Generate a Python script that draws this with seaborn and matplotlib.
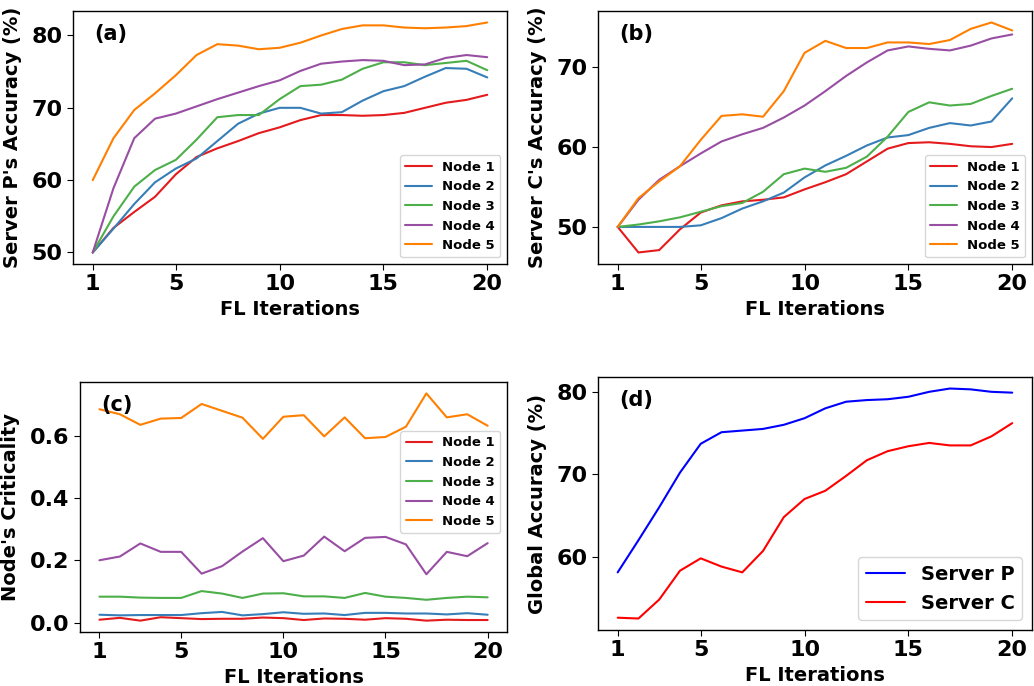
"""
Four panel figure: per-node accuracy on servers P and C, node criticality and global accuracy.
"""
import numpy as np
import pandas as pd
import matplotlib
matplotlib.use('Agg')
import matplotlib.pyplot as plt
import seaborn as sns

# Data
iterations = list(range(1, 21))
node_names = ['Node 1', 'Node 2', 'Node 3', 'Node 4', 'Node 5']

server_p_node1 = [50.0, 53.4, 55.6, 57.7, 60.8, 63.2, 64.4, 65.4, 66.5, 67.3,
                  68.3, 69.0, 69.0, 68.9, 69.0, 69.3, 70.0, 70.7, 71.1, 71.8]
server_p_node2 = [50.0, 53.3, 56.7, 59.7, 61.6, 63.0, 65.4, 67.8, 69.2, 70.0,
                  70.0, 69.2, 69.4, 71.0, 72.3, 73.0, 74.3, 75.5, 75.4, 74.2]
server_p_node3 = [50.0, 55.0, 59.1, 61.4, 62.8, 65.6, 68.7, 69.0, 69.0, 71.2,
                  73.0, 73.2, 73.9, 75.4, 76.3, 76.3, 75.9, 76.2, 76.5, 75.2]
server_p_node4 = [50.0, 58.9, 65.8, 68.5, 69.2, 70.2, 71.2, 72.1, 73.0, 73.8,
                  75.1, 76.1, 76.4, 76.6, 76.5, 75.9, 76.0, 76.9, 77.3, 77.0]
server_p_node5 = [60.0, 65.8, 69.7, 72.0, 74.5, 77.3, 78.8, 78.6, 78.1, 78.3,
                  79.0, 80.0, 80.9, 81.4, 81.4, 81.1, 81.0, 81.1, 81.3, 81.8]

server_c_node1 = [50.0, 46.8, 47.1, 49.7, 51.8, 52.7, 53.2, 53.4, 53.7, 54.7,
                  55.6, 56.6, 58.2, 59.8, 60.5, 60.6, 60.4, 60.1, 60.0, 60.4]
server_c_node2 = [50.0, 50.0, 50.0, 50.0, 50.2, 51.1, 52.3, 53.2, 54.3, 56.2,
                  57.7, 58.9, 60.2, 61.2, 61.5, 62.4, 63.0, 62.7, 63.2, 66.1]
server_c_node3 = [50.0, 50.3, 50.7, 51.2, 51.9, 52.6, 53.0, 54.4, 56.6, 57.3,
                  56.9, 57.4, 58.8, 61.3, 64.4, 65.6, 65.2, 65.4, 66.4, 67.3]
server_c_node4 = [50.0, 53.4, 55.9, 57.6, 59.2, 60.7, 61.6, 62.4, 63.7, 65.2,
                  67.0, 68.9, 70.6, 72.1, 72.6, 72.3, 72.1, 72.7, 73.6, 74.1]
server_c_node5 = [50.0, 53.6, 55.7, 57.6, 60.9, 63.9, 64.1, 63.8, 67.0, 71.8,
                  73.3, 72.4, 72.4, 73.1, 73.1, 72.9, 73.4, 74.8, 75.6, 74.6]

crit_node1 = [0.009, 0.015, 0.006, 0.017, 0.014, 0.011, 0.012, 0.012, 0.016, 0.014,
              0.008, 0.013, 0.012, 0.009, 0.014, 0.012, 0.006, 0.009, 0.008, 0.008]
crit_node2 = [0.025, 0.023, 0.024, 0.024, 0.024, 0.030, 0.034, 0.023, 0.027, 0.033,
              0.028, 0.029, 0.024, 0.031, 0.031, 0.029, 0.029, 0.026, 0.030, 0.025]
crit_node3 = [0.083, 0.083, 0.080, 0.079, 0.079, 0.101, 0.093, 0.079, 0.093, 0.094,
              0.084, 0.084, 0.079, 0.095, 0.083, 0.079, 0.073, 0.079, 0.083, 0.081]
crit_node4 = [0.200, 0.212, 0.254, 0.227, 0.227, 0.157, 0.181, 0.228, 0.271, 0.197,
              0.215, 0.276, 0.229, 0.272, 0.275, 0.251, 0.155, 0.227, 0.213, 0.255]
crit_node5 = [0.685, 0.669, 0.635, 0.655, 0.657, 0.702, 0.680, 0.658, 0.590, 0.661,
              0.666, 0.598, 0.659, 0.592, 0.596, 0.629, 0.736, 0.659, 0.669, 0.632]

global_server_p = [58.1, 62.0, 66.0, 70.2, 73.7, 75.1, 75.3, 75.5, 76.0, 76.8,
                   78.0, 78.8, 79.0, 79.1, 79.4, 80.0, 80.4, 80.3, 80.0, 79.9]
global_server_c = [52.6, 52.5, 54.8, 58.3, 59.8, 58.8, 58.1, 60.7, 64.8, 67.0,
                   68.0, 69.8, 71.7, 72.8, 73.4, 73.8, 73.5, 73.5, 74.6, 76.2]

x_ticks = [1, 5, 10, 15, 20]


def to_long(series_list, names):
    """Build a long-form frame from several series."""
    frames = [pd.DataFrame({'iter': iterations, 'value': s, 'name': n})
              for s, n in zip(series_list, names)]
    return pd.concat(frames, ignore_index=True)


def draw_panel(ax, data, palette, ylabel, tag, yticks, legend_kw):
    sns.lineplot(data=data, x='iter', y='value', hue='name', palette=palette,
                 linewidth=1.5, ax=ax)
    ax.set_xticks(x_ticks)
    ax.set_yticks(yticks)
    ax.set_xlabel('FL Iterations', fontsize=14, fontweight='bold')
    ax.set_ylabel(ylabel, fontsize=14, fontweight='bold', labelpad=7)
    ax.tick_params(labelsize=16)
    for lab in ax.get_xticklabels() + ax.get_yticklabels():
        lab.set_fontweight('bold')
    ax.text(0.05, 0.91, tag, transform=ax.transAxes, fontsize=15,
            fontweight='bold', va='center', ha='left')
    leg = ax.legend(prop={'weight': 'bold', 'size': legend_kw.pop('size')},
                    **legend_kw)
    return leg


sns.set_style('ticks')
plt.rcParams['font.family'] = ['DejaVu Sans']
plt.rcParams['text.color'] = 'black'
plt.rcParams['axes.labelcolor'] = 'black'
plt.rcParams['xtick.color'] = 'black'
plt.rcParams['ytick.color'] = 'black'

fig = plt.figure(figsize=(10.34, 6.86), dpi=100)
ax_a = fig.add_axes([0.0706, 0.6152, 0.4197, 0.3688])
ax_b = fig.add_axes([0.5783, 0.6152, 0.4197, 0.3688])
ax_c = fig.add_axes([0.0774, 0.0787, 0.4130, 0.3644])
ax_d = fig.add_axes([0.5783, 0.0816, 0.4197, 0.3688])

set1 = sns.color_palette('Set1', 5)

draw_panel(ax_a,
           to_long([server_p_node1, server_p_node2, server_p_node3,
                    server_p_node4, server_p_node5], node_names),
           set1, "Server P's Accuracy (%)", '(a)', [50, 60, 70, 80],
           {'loc': 'lower right', 'size': 9.5})

draw_panel(ax_b,
           to_long([server_c_node1, server_c_node2, server_c_node3,
                    server_c_node4, server_c_node5], node_names),
           set1, "Server C's Accuracy (%)", '(b)', [50, 60, 70],
           {'loc': 'lower right', 'size': 9.5})

draw_panel(ax_c,
           to_long([crit_node1, crit_node2, crit_node3,
                    crit_node4, crit_node5], node_names),
           set1, "Node's Criticality", '(c)', [0.0, 0.2, 0.4, 0.6],
           {'loc': 'center right', 'bbox_to_anchor': (1.0, 0.6), 'size': 9.5})

draw_panel(ax_d,
           to_long([global_server_p, global_server_c], ['Server P', 'Server C']),
           ['blue', 'red'], 'Global Accuracy (%)', '(d)', [60, 70, 80],
           {'loc': 'lower right', 'size': 14})

for ax in [ax_a, ax_b, ax_c, ax_d]:
    for sp in ax.spines.values():
        sp.set_color('black')
        sp.set_linewidth(1.0)
    ax.tick_params(color='black', length=4)

fig.savefig('out.png', dpi=100)
